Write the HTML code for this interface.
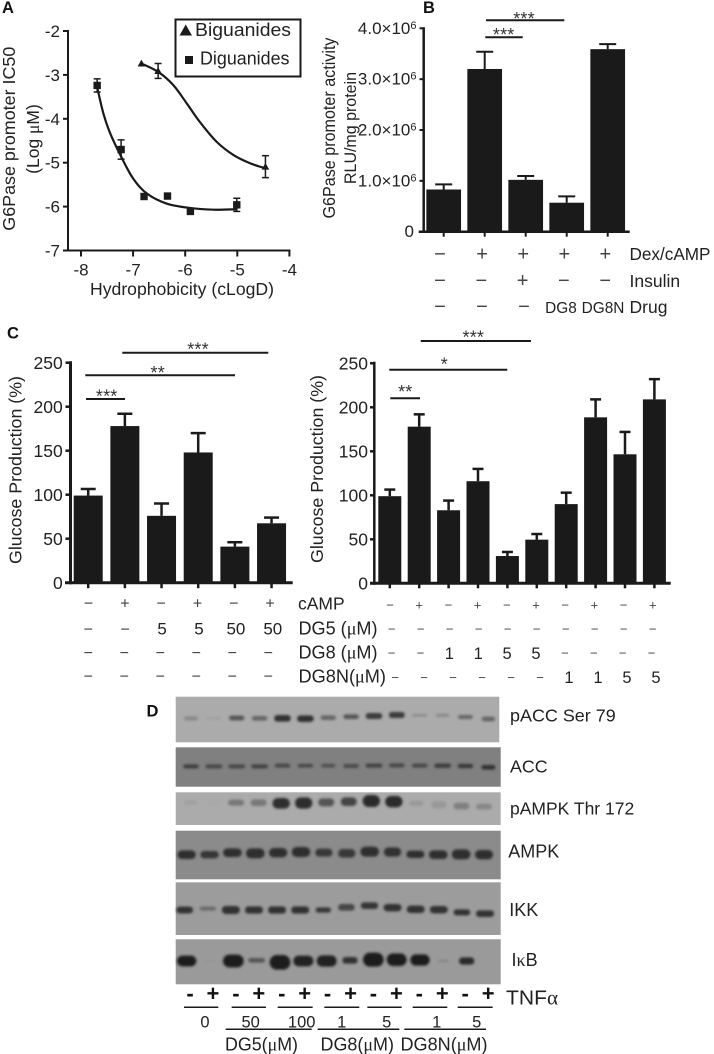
<!DOCTYPE html>
<html>
<head>
<meta charset="utf-8">
<title>Biguanide and diguanide figure</title>
<style>
html,body{margin:0;padding:0;background:#fff;}
svg{display:block;font-family:"Liberation Sans",sans-serif;fill:#222;filter:blur(0.35px);}
text{fill:#222;}
.mu{font-family:"Liberation Serif",serif;}
.panel{font-weight:bold;font-size:16.5px;fill:#111;}
</style>
</head>
<body>
<svg id="fig" width="714" height="1054" viewBox="0 0 714 1054" xmlns="http://www.w3.org/2000/svg">
<defs>
<filter id="blot-blur" x="-30%" y="-60%" width="160%" height="220%"><feGaussianBlur stdDeviation="1.3"/></filter>
</defs>
<rect width="714" height="1054" fill="#fff"/>

<text class="panel" x="2" y="13">A</text>
<text class="panel" x="423" y="13">B</text>
<text class="panel" x="7" y="338.5">C</text>
<text class="panel" x="146.5" y="716.5">D</text>

<g id="panelA"></g>
<text font-size="17.6" text-anchor="middle" textLength="184" lengthAdjust="spacingAndGlyphs" transform="translate(15,138.7) rotate(-90)">G6Pase promoter IC50</text>
<text font-size="17.5" text-anchor="middle" transform="translate(39,139) rotate(-90)">(Log <tspan class="mu">μ</tspan>M)</text>
<text font-size="17.4" x="90" y="295" textLength="184" lengthAdjust="spacingAndGlyphs">Hydrophobicity (cLogD)</text>
<g>
<rect x="175.5" y="19.5" width="125" height="57" fill="#fff" stroke="#1a1a1a" stroke-width="2"/>
<polygon points="179.5,35.5 192,35.5 185.7,24.5" fill="#1a1a1a"/>
<text font-size="18.5" x="195" y="36" textLength="96" lengthAdjust="spacingAndGlyphs">Biguanides</text>
<rect x="185" y="56" width="8" height="8" fill="#1a1a1a"/>
<text font-size="18" x="200" y="64.5" textLength="89.5" lengthAdjust="spacingAndGlyphs">Diguanides</text>
</g>

<g id="panelB"></g>
<text font-size="17.4" text-anchor="middle" textLength="181" lengthAdjust="spacingAndGlyphs" transform="translate(335,128) rotate(-90)">G6Pase promoter activity</text>
<text font-size="16.5" text-anchor="middle" textLength="112" lengthAdjust="spacingAndGlyphs" transform="translate(356,128) rotate(-90)">RLU/mg protein</text>
<text font-size="17.2" x="629.5" y="260" textLength="81" lengthAdjust="spacingAndGlyphs">Dex/cAMP</text>
<text font-size="17.5" x="629.5" y="287">Insulin</text>
<text font-size="17.5" x="629.5" y="313">Drug</text>
<text font-size="15.4" x="561" y="313" text-anchor="middle">DG8</text>
<text font-size="15.4" x="603" y="313" text-anchor="middle">DG8N</text>

<g id="panelCL"></g>
<text font-size="17.8" text-anchor="middle" textLength="188" lengthAdjust="spacingAndGlyphs" transform="translate(21.5,470) rotate(-90)">Glucose Production (%)</text>
<g id="panelCR"></g>
<text font-size="17.8" text-anchor="middle" textLength="188" lengthAdjust="spacingAndGlyphs" transform="translate(323,469) rotate(-90)">Glucose Production (%)</text>
<text font-size="17.5" x="298" y="609.3">cAMP</text>
<text font-size="18" x="298.5" y="634.3" textLength="79" lengthAdjust="spacingAndGlyphs">DG5 (<tspan class="mu">μ</tspan>M)</text>
<text font-size="18" x="298.5" y="658.3" textLength="79" lengthAdjust="spacingAndGlyphs">DG8 (<tspan class="mu">μ</tspan>M)</text>
<text font-size="18" x="298.5" y="682.5" textLength="87.5" lengthAdjust="spacingAndGlyphs">DG8N(<tspan class="mu">μ</tspan>M)</text>

<g id="panelD"></g>
<text font-size="17.7" x="510" y="721.7" textLength="105.7" lengthAdjust="spacingAndGlyphs">pACC Ser 79</text>
<text font-size="17.8" x="510" y="772.7">ACC</text>
<text font-size="17.5" x="510" y="814.3">pAMPK Thr 172</text>
<text font-size="18" x="508.3" y="857.7">AMPK</text>
<text font-size="18" x="509.3" y="916">IKK</text>
<text font-size="18" x="511.5" y="966">I<tspan class="mu">κ</tspan>B</text>
<text font-size="20" x="506" y="1004.3" textLength="52" lengthAdjust="spacingAndGlyphs">TNF<tspan class="mu">α</tspan></text>
<text font-size="18" x="225" y="1050.5" textLength="73" lengthAdjust="spacingAndGlyphs">DG5(<tspan class="mu">μ</tspan>M)</text>
<text font-size="18" x="320.5" y="1050.5" textLength="73.5" lengthAdjust="spacingAndGlyphs">DG8(<tspan class="mu">μ</tspan>M)</text>
<text font-size="18" x="400.5" y="1050.5" textLength="87" lengthAdjust="spacingAndGlyphs">DG8N(<tspan class="mu">μ</tspan>M)</text>

<script>
// ---------- Panel A data ----------
var aYTicks = [-2, -3, -4, -5, -6, -7];
var aXTicks = [-8, -7, -6, -5, -4];
var diguanideX = [-7.69, -7.23, -6.79, -6.34, -5.90, -5.01];
var diguanideY = [-3.24, -4.70, -5.77, -5.76, -6.11, -5.96];
var diguanideErr = [0.15, 0.22, 0, 0, 0, 0.15];
var biguanideX = [-6.84, -6.52, -4.46];
var biguanideY = [-2.74, -2.91, -5.09];
var biguanideErr = [0, 0.17, 0.25];
var diguanideFitX = [-7.69, -7.57, -7.44, -7.23, -7.00, -6.74, -6.36, -5.91, -5.46, -5.01];
var diguanideFitY = [-3.28, -3.88, -4.33, -4.86, -5.36, -5.70, -5.93, -6.03, -6.07, -6.06];
var biguanideFitX = [-6.84, -6.52, -6.23, -5.97, -5.72, -5.40, -5.08, -4.76, -4.46];
var biguanideFitY = [-2.74, -2.93, -3.23, -3.65, -4.07, -4.52, -4.82, -5.01, -5.13];

// ---------- Panel B data ----------
var bCategories = ['ctrl', 'dex-camp', 'insulin', 'dg8', 'dg8n'];
var bValues = [0.83, 3.20, 1.02, 0.57, 3.59];
var bErrTops = [0.93, 3.54, 1.095, 0.695, 3.69];
var bYTicks = [0, 1, 2, 3, 4];
var bYLabels = ['0', '1.0×10', '2.0×10', '3.0×10', '4.0×10'];
var bRowDex = ['−', '+', '+', '+', '+'];
var bRowInsulin = ['−', '−', '+', '−', '−'];
var bRowDrug = ['−', '−', '−'];

// ---------- Panel C data ----------
var cYTicks = [0, 50, 100, 150, 200, 250];
var cLeftValues = [99, 178, 76, 148, 41, 67.5];
var cLeftErrTops = [106.5, 192, 90, 170, 46, 74];
var cLeftCamp = ['−', '+', '−', '+', '−', '+'];
var cLeftDg5 = ['−', '−', '5', '5', '50', '50'];
var cLeftDg8 = ['−', '−', '−', '−', '−', '−'];
var cLeftDg8n = ['−', '−', '−', '−', '−', '−'];
var cRightValues = [99, 178, 83, 116, 31, 49.6, 90, 188.6, 146.6, 209];
var cRightErrTops = [106.5, 192, 94, 130, 35.6, 56, 103, 209, 172, 232];
var cRightCamp = ['−', '+', '−', '+', '−', '+', '−', '+', '−', '+'];
var cRightDg5 = ['−', '−', '−', '−', '−', '−', '−', '−', '−', '−'];
var cRightDg8 = ['−', '−', '1', '1', '5', '5', '−', '−', '−', '−'];
var cRightDg8n = ['−', '−', '−', '−', '−', '−', '1', '1', '5', '5'];

// ---------- Panel D band appearance ----------
var paccGray = [136, 160, 85, 102, 51, 51, 102, 85, 58, 58, 140, 140, 102, 102];
var paccW = [42, 45, 46, 46, 50, 50, 46, 46, 50, 48, 45, 40, 44, 40];
var paccH = [12, 8, 14, 14, 20, 20, 14, 14, 18, 18, 8, 10, 12, 14];
var paccY = [85, 85, 84, 85, 85, 86, 83, 80, 78, 75, 76, 76, 81, 87];
var accGray = [60, 70, 70, 65, 70, 70, 80, 75, 65, 70, 70, 60, 55, 50];
var accW = [46, 50, 50, 50, 46, 46, 42, 46, 50, 46, 46, 50, 46, 42];
var accH = [12, 12, 12, 12, 12, 11, 11, 12, 12, 12, 12, 13, 13, 14];
var accY = [229, 229, 229, 229, 227, 227, 227, 228, 227, 226, 227, 227, 228, 232];
var pampkGray = [160, 168, 119, 119, 45, 45, 85, 68, 42, 42, 153, 153, 128, 136];
var pampkW = [40, 40, 48, 48, 52, 52, 48, 48, 52, 52, 42, 46, 48, 48];
var pampkH = [14, 14, 18, 20, 32, 34, 24, 26, 36, 34, 16, 22, 20, 18];
var pampkY = [338, 338, 338, 338, 340, 339, 337, 335, 333, 335, 340, 344, 348, 350];
var ampkGray = [47, 52, 47, 47, 47, 47, 55, 55, 47, 50, 47, 47, 47, 47];
var ampkW = [55, 55, 56, 56, 55, 56, 52, 52, 56, 52, 54, 56, 56, 54];
var ampkH = [26, 22, 26, 30, 28, 30, 24, 26, 30, 28, 22, 26, 30, 28];
var ampkY = [494, 494, 488, 490, 488, 486, 488, 490, 485, 486, 493, 494, 493, 494];
var ikkGray = [50, 105, 48, 48, 48, 48, 55, 70, 52, 50, 48, 50, 50, 48];
var ikkW = [50, 48, 54, 54, 54, 54, 46, 50, 52, 54, 54, 54, 50, 54];
var ikkH = [20, 12, 24, 22, 22, 22, 16, 20, 20, 22, 22, 22, 18, 20];
var ikkY = [105, 101, 105, 105, 105, 105, 105, 97, 92, 98, 103, 104, 112, 116];
var ikbGray = [26, 144, 26, 85, 26, 34, 34, 51, 26, 26, 26, 136, 42, 150];
var ikbW = [58, 30, 62, 50, 62, 60, 60, 46, 62, 60, 58, 30, 46, 20];
var ikbH = [32, 4, 38, 14, 44, 32, 34, 20, 42, 38, 34, 8, 22, 2];
var ikbY = [258, 258, 258, 256, 262, 258, 258, 256, 254, 254, 255, 258, 258, 258];
var tnfSigns = ['-', '+', '-', '+', '-', '+', '-', '+', '-', '+', '-', '+', '-', '+'];
var doseLabels = ['0', '50', '100', '1', '5', '1', '5'];

// ---------- helpers ----------
var NS = 'http://www.w3.org/2000/svg';
var INK = '#1a1a1a';
function mk(parent, tag, attrs) {
  var el = document.createElementNS(NS, tag);
  for (var k in attrs) { el.setAttribute(k, attrs[k]); }
  parent.appendChild(el);
  return el;
}
function line(parent, x1, y1, x2, y2, w, name) {
  var el = mk(parent, 'line', {x1: x1, y1: y1, x2: x2, y2: y2, stroke: INK, 'stroke-width': w});
  
  
  return el;
}
function label(parent, x, y, str, size, anchor, name, color) {
  var el = mk(parent, 'text', {x: x, y: y, 'font-size': size, 'text-anchor': anchor});
  if (color) { el.style.fill = color; }
  el.textContent = str;
  
  
  return el;
}
function stars(parent, cx, cy, str, name) {
  var el = label(parent, cx, cy + 10.5, str, 18, 'middle', name, '#333');
  el.setAttribute('letter-spacing', '0.2');
  return el;
}
function smoothPath(xs, ys, fx, fy) {
  var p = xs.map(function (v, i) { return [fx(v), fy(ys[i])]; });
  var d = 'M' + p[0][0] + ' ' + p[0][1];
  for (var i = 0; i < p.length - 1; i++) {
    var a = p[Math.max(i - 1, 0)], b = p[i], c = p[i + 1], e = p[Math.min(i + 2, p.length - 1)];
    d += ' C' + (b[0] + (c[0] - a[0]) / 6) + ' ' + (b[1] + (c[1] - a[1]) / 6) + ' ' +
      (c[0] - (e[0] - b[0]) / 6) + ' ' + (c[1] - (e[1] - b[1]) / 6) + ' ' + c[0] + ' ' + c[1];
  }
  return d;
}
function errorBar(parent, x, yLo, yHi, cap, w, name) {
  line(parent, x, yLo, x, yHi, w, name + '-stem');
  line(parent, x - cap / 2, yHi, x + cap / 2, yHi, w, name + '-cap');
}
function drawBars(parent, values, errTops, fx, fy, width, cap, errW, prefix) {
  values.forEach(function (v, i) {
    var top = fy(v);
    errorBar(parent, fx(i), top, fy(errTops[i]), cap, errW, prefix + '-error-' + (i + 1));
    var bar = mk(parent, 'rect', {x: fx(i) - width / 2, y: top, width: width, height: fy(0) - top, fill: INK});
    
    
  });
}
function drawRow(parent, items, fx, y, size, prefix) {
  items.forEach(function (s, i) {
    var isSign = (s === '−' || s === '+');
    label(parent, fx(i), y, s, isSign ? size : 17, 'middle', prefix + '-' + (i + 1), isSign ? '#444' : '#222');
  });
}

// ---------- Panel A ----------
(function () {
  var g = document.getElementById('panelA');
  var xA = function (v) { return 81 + (v + 8) * 52.1; };
  var yA = function (v) { return 31 + (-2 - v) * 43.9; };
  line(g, 68, yA(-2) - 1, 68, yA(-7) + 1, 2, 'a-y-axis');
  line(g, 63, yA(-7), xA(-4) + 1, yA(-7), 2, 'a-x-axis');
  aYTicks.forEach(function (t) {
    line(g, 63, yA(t), 68, yA(t), 2, 'a-y-tick');
    label(g, 60, yA(t) + 6, String(t), 17, 'end', 'a-y-tick-label');
  });
  aXTicks.forEach(function (t) {
    line(g, xA(t), yA(-7), xA(t), yA(-7) + 6, 2, 'a-x-tick');
    label(g, xA(t), 275.5, String(t), 17, 'middle', 'a-x-tick-label');
  });
  var c1 = mk(g, 'path', {d: smoothPath(diguanideFitX, diguanideFitY, xA, yA), fill: 'none', stroke: INK, 'stroke-width': 2.2});
  
  
  var c2 = mk(g, 'path', {d: smoothPath(biguanideFitX, biguanideFitY, xA, yA), fill: 'none', stroke: INK, 'stroke-width': 2.2});
  
  
  diguanideX.forEach(function (x, i) {
    var px = xA(x), py = yA(diguanideY[i]), e = diguanideErr[i];
    if (e > 0) {
      line(g, px, yA(diguanideY[i] + e), px, yA(diguanideY[i] - e), 1.5, 'diguanide-error-stem');
      line(g, px - 3.5, yA(diguanideY[i] + e), px + 3.5, yA(diguanideY[i] + e), 1.5, 'diguanide-error-cap');
      line(g, px - 3.5, yA(diguanideY[i] - e), px + 3.5, yA(diguanideY[i] - e), 1.5, 'diguanide-error-cap');
    }
    var m = mk(g, 'rect', {x: px - 3.7, y: py - 3.7, width: 7.4, height: 7.4, fill: INK});
    
    
  });
  biguanideX.forEach(function (x, i) {
    var px = xA(x), py = yA(biguanideY[i]), e = biguanideErr[i];
    if (e > 0) {
      line(g, px, yA(biguanideY[i] + e), px, yA(biguanideY[i] - e), 1.5, 'biguanide-error-stem');
      line(g, px - 3.5, yA(biguanideY[i] + e), px + 3.5, yA(biguanideY[i] + e), 1.5, 'biguanide-error-cap');
      line(g, px - 3.5, yA(biguanideY[i] - e), px + 3.5, yA(biguanideY[i] - e), 1.5, 'biguanide-error-cap');
    }
    var m = mk(g, 'polygon', {points: (px - 3.8) + ',' + (py + 3) + ' ' + (px + 3.8) + ',' + (py + 3) + ' ' + px + ',' + (py - 3.8), fill: INK});
    
    
  });
})();

// ---------- Panel B ----------
(function () {
  var g = document.getElementById('panelB');
  var xB = function (i) { return 443.7 + i * 41; };
  var yB = function (v) { return 231.7 - v * 50.85; };
  drawBars(g, bValues, bErrTops, xB, yB, 34.7, 17, 2, 'b-' + 'group');
  line(g, 423.7, yB(4) - 1, 423.7, yB(0) + 1, 2.5, 'b-y-axis');
  line(g, 418.7, yB(0), 629.7, yB(0), 2.5, 'b-x-axis');
  bYTicks.forEach(function (t, i) {
    line(g, 419.5, yB(t), 423.7, yB(t), 2, 'b-y-tick');
    var el = label(g, t === 0 ? 414 : 416.5, yB(t) + 5.5, bYLabels[i], 17, 'end', 'b-y-tick-label');
    if (t !== 0) {
      var sup = mk(el, 'tspan', {dy: -5, 'font-size': 11});
      sup.textContent = '6';
    }
  });
  bCategories.forEach(function (c, i) {
    line(g, xB(i), yB(0), xB(i), yB(0) + 5, 2, 'b-x-tick-' + c);
  });
  drawRow(g, bRowDex, function (i) { return 441 + i * 41.1 + (i === 0 ? -1 : 0); }, 260.6, 20, 'b-dex-camp-mark');
  drawRow(g, bRowInsulin, function (i) { return 440 + i * 41.3; }, 287, 20, 'b-insulin-mark');
  drawRow(g, bRowDrug, function (i) { return 440 + i * 42; }, 313, 20, 'b-drug-mark');
  line(g, 486, 20.3, 564.3, 20.3, 2, 'b-significance-line-upper');
  stars(g, 524, 14.3, '***', 'b-significance-stars-upper');
  line(g, 485.3, 37.3, 522.7, 37.3, 2, 'b-significance-line-lower');
  stars(g, 503.7, 30.3, '***', 'b-significance-stars-lower');
})();

// ---------- Panel C left ----------
(function () {
  var g = document.getElementById('panelCL');
  var xC = function (i) { return 88.2 + i * 36.67; };
  var yC = function (v) { return 582.7 - v * 0.88; };
  drawBars(g, cLeftValues, cLeftErrTops, xC, yC, 29, 15, 2.5, 'c-left');
  line(g, 70.5, yC(250) - 1.5, 70.5, yC(0) + 1.5, 3, 'c-left-y-axis');
  line(g, 65, yC(0), 292.7, yC(0), 3, 'c-left-x-axis');
  cYTicks.forEach(function (t) {
    line(g, 65.5, yC(t), 70.5, yC(t), 2.5, 'c-left-y-tick');
    label(g, 62.7, yC(t) + 6.3, String(t), 17.5, 'end', 'c-left-y-tick-label');
  });
  cLeftValues.forEach(function (v, i) {
    line(g, xC(i), yC(0), xC(i), yC(0) + 5.5, 2.5, 'c-left-x-tick');
  });
  var rx = function (i) { return 88.6 + i * 36.3; };
  drawRow(g, cLeftCamp, rx, 608.5, 16, 'c-left-camp-mark');
  drawRow(g, cLeftDg5, function (i) { return 88.3 + i * 36.9; }, 634.5, 16, 'c-left-dg5-mark');
  drawRow(g, cLeftDg8, function (i) { return 88.3 + i * 36; }, 658, 16, 'c-left-dg8-mark');
  drawRow(g, cLeftDg8n, function (i) { return 88.3 + i * 36; }, 681.5, 16, 'c-left-dg8n-mark');
  line(g, 122.3, 352.7, 268.3, 352.7, 2, 'c-left-significance-line-1');
  stars(g, 198, 345, '***', 'c-left-significance-stars-1');
  line(g, 85.3, 375.3, 235, 375.3, 2, 'c-left-significance-line-2');
  stars(g, 157.7, 368.3, '**', 'c-left-significance-stars-2');
  line(g, 86, 399, 125, 399, 2, 'c-left-significance-line-3');
  stars(g, 106.7, 392, '***', 'c-left-significance-stars-3');
})();

// ---------- Panel C right ----------
(function () {
  var g = document.getElementById('panelCR');
  var xC = function (i) { return 389.8 + i * 29.4; };
  var yC = function (v) { return 583.3 - v * 0.88; };
  drawBars(g, cRightValues, cRightErrTops, xC, yC, 23, 11, 2.5, 'c-right');
  line(g, 374.3, yC(250) - 1.5, 374.3, yC(0) + 1.5, 2.5, 'c-right-y-axis');
  line(g, 370, yC(0), 670.7, yC(0), 3, 'c-right-x-axis');
  cYTicks.forEach(function (t) {
    line(g, 370, yC(t), 374.3, yC(t), 2.5, 'c-right-y-tick');
    label(g, 368, yC(t) + 6.3, String(t), 17.5, 'end', 'c-right-y-tick-label');
  });
  cRightValues.forEach(function (v, i) {
    line(g, xC(i), yC(0), xC(i), yC(0) + 5, 2.5, 'c-right-x-tick');
  });
  drawRow(g, cRightCamp, function (i) { return 390 + i * 29.2; }, 609.5, 13, 'c-right-camp-mark');
  drawRow(g, cRightDg5, function (i) { return 391.7 + i * 29; }, 633.5, 13, 'c-right-dg5-mark');
  var r3 = function (i) { return 391.5 + i * 28.9; };
  cRightDg8.forEach(function (s, i) {
    var isNum = s !== '−';
    label(g, r3(i), isNum ? 659 : 657.5, s, isNum ? 16.5 : 13, 'middle', 'c-right-dg8-mark', isNum ? '#222' : '#444');
  });
  var r4 = function (i) { return 395 + i * 29; };
  cRightDg8n.forEach(function (s, i) {
    var isNum = s !== '−';
    label(g, r4(i), isNum ? 683 : 682, s, isNum ? 16.5 : 13, 'middle', 'c-right-dg8n-mark', isNum ? '#222' : '#444');
  });
  line(g, 420.7, 341, 531, 341, 2, 'c-right-significance-line-1');
  stars(g, 473.3, 333, '***', 'c-right-significance-stars-1');
  line(g, 389.3, 369.7, 507.3, 369.7, 2, 'c-right-significance-line-2');
  stars(g, 444.3, 360, '*', 'c-right-significance-stars-2');
  line(g, 390.3, 398.3, 420, 398.3, 2, 'c-right-significance-line-3');
  stars(g, 405.3, 387.3, '**', 'c-right-significance-stars-3');
})();

// ---------- Panel D ----------
(function () {
  var g = document.getElementById('panelD');
  function blot(name, x, y, w, h, bg, firstLane, lastLane, originY, grays, ws, hs, ys) {
    var box = mk(g, 'rect', {x: x, y: y, width: w, height: h, fill: bg});
    
    
    grays.forEach(function (gr, i) {
      var cx = 160 + (firstLane + (lastLane - firstLane) * i / 13) / 3;
      var cy = originY + ys[i] / 3;
      var bw = ws[i] / 3, bh = hs[i] / 3;
      var band = mk(g, 'rect', {x: cx - bw / 2, y: cy - bh / 2, width: bw, height: bh, rx: Math.min(bw, bh) / 2,
        fill: 'rgb(' + gr + ',' + gr + ',' + gr + ')', filter: 'url(#blot-blur)'});
      
      
    });
  }
  blot('pacc', 175.7, 696.7, 323.6, 45.6, '#ababab', 93, 985, 690, paccGray, paccW, paccH, paccY);
  blot('acc', 175.7, 747.3, 325, 39.4, '#808080', 93, 985, 690, accGray, accW, accH, accY);
  blot('pampk', 175.7, 792.3, 325, 32.7, '#ababab', 93, 972, 690, pampkGray, pampkW, pampkH, pampkY);
  blot('ampk', 175.7, 830.7, 325, 48.6, '#8b8b8b', 80, 972, 690, ampkGray, ampkW, ampkH, ampkY);
  blot('ikk', 175.7, 882.3, 325, 52.7, '#9c9c9c', 74, 975, 875, ikkGray, ikkW, ikkH, ikkY);
  blot('ikb', 175.7, 939.3, 325, 45, '#9a9a9a', 80, 990, 875, ikbGray, ikbW, ikbH, ikbY);

  var signX = function (i) { return 160 + (90 + i * 68.8) / 3; };
  tnfSigns.forEach(function (s, i) {
    var el = label(g, signX(i), 1001, s, 22, 'middle', 'tnf-sign-' + (i + 1), '#111');
    el.setAttribute('font-weight', 'bold');
  });
  var treatLines = [0, 1, 2, 3, 4, 5, 6];
  var treatStart = [72, 215, 353, 493, 622, 758, 893];
  var treatEnd = [175, 318, 458, 598, 725, 862, 998];
  treatLines.forEach(function (i) {
    line(g, 160 + treatStart[i] / 3, 1007.3, 160 + treatEnd[i] / 3, 1007.3, 1.5, 'dose-underline-' + (i + 1));
  });
  var doseCenters = [135, 272, 425, 545, 680, 830, 950];
  doseLabels.forEach(function (s, i) {
    label(g, 160 + doseCenters[i] / 3, 1027.5, s, 16.5, 'middle', 'dose-label-' + (i + 1));
  });
  var groupStart = [197, 473, 733];
  var groupEnd = [455, 718, 978];
  groupStart.forEach(function (v, i) {
    line(g, 160 + v / 3, 1029.3, 160 + groupEnd[i] / 3, 1029.3, 1.5, 'drug-group-underline-' + (i + 1));
  });
})();
</script>
</svg>
</body>
</html>
